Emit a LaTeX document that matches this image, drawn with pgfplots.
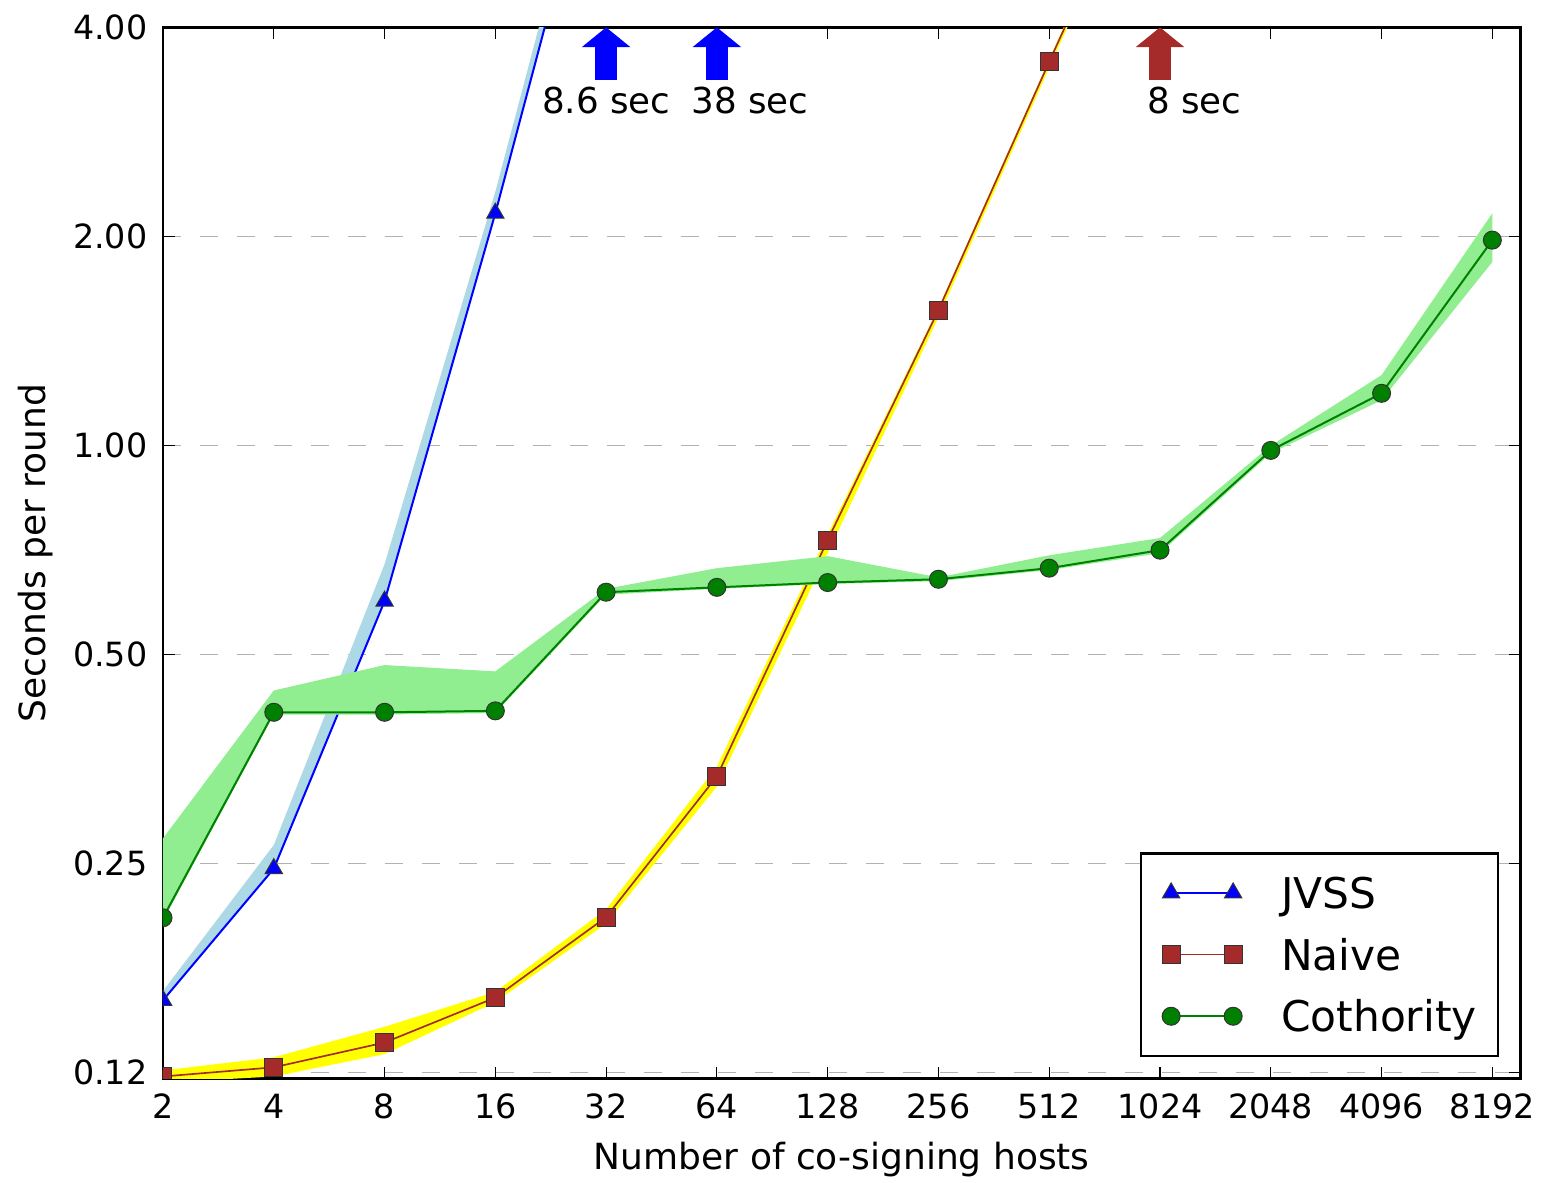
\documentclass[border=0pt]{standalone}
\usepackage{fontspec}
\setmainfont{DejaVu Sans}
\usepackage{pgfplots}
\pgfplotsset{compat=1.18}
\definecolor{mplblue}{RGB}{0,0,255}
\definecolor{mplbrown}{RGB}{165,42,42}
\definecolor{mplgreen}{RGB}{0,128,0}
\definecolor{lgreen}{RGB}{144,238,144}
\definecolor{lblue}{RGB}{173,216,230}
\definecolor{myyellow}{RGB}{255,255,0}
\begin{document}
\begin{tikzpicture}
\begin{axis}[name=ax,
  scale only axis, width=407.3pt, height=315.4pt,
  xmode=log, ymode=log, log basis x=2, log basis y=2,
  xmin=2, xmax=9780, ymin=0.1226, ymax=4,
  xtick={2,4,8,16,32,64,128,256,512,1024,2048,4096,8192},
  xticklabels={2,4,8,16,32,64,128,256,512,1024,2048,4096,8192},
  ytick={0.125,0.25,0.5,1,2,4},
  yticklabels={0.12,0.25,0.50,1.00,2.00,4.00},
  minor xtick={}, minor ytick={},
  tick align=inside, major tick length=3.6pt,
  every tick/.style={black, line width=0.35pt},
  axis line style={line width=0.75pt, black},
  ymajorgrids,
  major grid style={gray!60, line width=0.35pt, dash pattern=on 5.5pt off 5.6pt},
  tick label style={font=\fontsize{10}{12}\selectfont},
  xticklabel style={anchor=north, inner sep=0pt, yshift=-4.4pt},
  yticklabel style={anchor=east, inner sep=0pt, xshift=-4.5pt},
  xlabel={Number of co-signing hosts},
  ylabel={Seconds per round},
  label style={font=\fontsize{10.8}{13}\selectfont},
  xlabel style={at={(axis description cs:0.5,-0.0861)}, anchor=base},
  ylabel style={at={(axis description cs:-0.0869,0.5)}, anchor=base},
  clip marker paths=true,
  /pgf/number format/assume math mode=true,
  legend style={at={(rel axis cs:1,0)}, anchor=south east, xshift=-6.5pt, yshift=6.5pt,
    draw=black, line width=0.75pt, fill=white,
    font=\fontsize{12.7}{15}\selectfont,
    inner xsep=6.3pt, inner ysep=7.2pt, row sep=9.2pt,
    nodes={inner sep=0pt, text height=9.3pt, text depth=0pt},
    /tikz/column 1/.style={column sep=11.7pt}},
  legend cell align=left,
  legend image code/.code={\draw[#1] plot coordinates {(0pt,0pt) (18.6pt,0pt)};},
]
% JVSS
\addplot[fill=lblue, draw=none, forget plot] coordinates {(2,0.164)(4,0.266)(8,0.675)(16,2.32)(32,9.3)(64,40)(64,38)(32,8.6)(16,2.16)(8,0.597)(4,0.246)(2,0.159)};
\addplot[mplblue, line width=0.6pt, mark=triangle*, mark size=3pt,
  mark options={fill=mplblue, draw=black!80, line width=0.3pt, solid}]
  coordinates {(2,0.159)(4,0.246)(8,0.597)(16,2.16)(32,8.6)(64,38)};
\addlegendentry{JVSS}
% Naive
\addplot[fill=myyellow, draw=none, forget plot] coordinates {(2,0.126)(4,0.1316)(8,0.1456)(16,0.1635)(32,0.215)(64,0.345)(128,0.745)(256,1.58)(512,3.6)(1024,8.1)(1024,7.9)(512,3.5)(256,1.53)(128,0.70)(64,0.323)(32,0.205)(16,0.158)(8,0.133)(4,0.1235)(2,0.121)};
\addplot[mplbrown, line width=0.5pt, mark=square*, mark size=2.7pt,
  mark options={fill=mplbrown, draw=black!80, line width=0.3pt, solid}]
  coordinates {(2,0.1235)(4,0.1273)(8,0.1382)(16,0.1604)(32,0.2094)(64,0.334)(128,0.731)(256,1.567)(512,3.57)(1024,8)};
\addlegendentry{Naive}
% Cothority
\addplot[fill=lgreen, draw=none, forget plot] coordinates {(2,0.272)(4,0.444)(8,0.483)(16,0.473)(32,0.622)(64,0.666)(128,0.693)(256,0.646)(512,0.695)(1024,0.736)(2048,1.0)(4096,1.263)(8192,2.16)(8192,1.838)(4096,1.162)(2048,0.975)(1024,0.700)(512,0.662)(256,0.638)(128,0.632)(64,0.622)(32,0.610)(16,0.412)(8,0.410)(4,0.410)(2,0.207)};
\addplot[mplgreen, line width=0.6pt, mark=*, mark size=2.7pt,
  mark options={fill=mplgreen, draw=black!80, line width=0.3pt, solid}]
  coordinates {(2,0.209)(4,0.413)(8,0.413)(16,0.415)(32,0.615)(64,0.625)(128,0.635)(256,0.642)(512,0.666)(1024,0.707)(2048,0.984)(4096,1.189)(8192,1.976)};
\addlegendentry{Cothority}
% arrows
\fill[mplblue] ([xshift=-3.2pt]axis cs:32,3.36) rectangle ([xshift=3.2pt]axis cs:32,3.75);
\fill[mplblue] ([xshift=-7.3pt]axis cs:32,3.746) -- (axis cs:32,4) -- ([xshift=7.3pt]axis cs:32,3.746) -- cycle;
\fill[mplblue] ([xshift=-3.2pt]axis cs:64,3.36) rectangle ([xshift=3.2pt]axis cs:64,3.75);
\fill[mplblue] ([xshift=-7.3pt]axis cs:64,3.746) -- (axis cs:64,4) -- ([xshift=7.3pt]axis cs:64,3.746) -- cycle;
\fill[mplbrown] ([xshift=-3.2pt]axis cs:1024,3.36) rectangle ([xshift=3.2pt]axis cs:1024,3.75);
\fill[mplbrown] ([xshift=-7.3pt]axis cs:1024,3.746) -- (axis cs:1024,4) -- ([xshift=7.3pt]axis cs:1024,3.746) -- cycle;
\node[anchor=base, inner sep=0pt, font=\fontsize{10.7}{13}\selectfont] at (axis cs:32,3.01) {8.6 sec};
\node[anchor=base, inner sep=0pt, font=\fontsize{10.7}{13}\selectfont] at (axis cs:78.8,3.01) {38 sec};
\node[anchor=base, inner sep=0pt, font=\fontsize{10.7}{13}\selectfont] at (axis cs:1268,3.01) {8 sec};
\end{axis}
\pgfresetboundingbox
\path[use as bounding box] ([shift={(-48.9pt,-31.05pt)}]ax.south west) rectangle ([shift={(7.9pt,8.2pt)}]ax.north east);
\end{tikzpicture}
\end{document}
